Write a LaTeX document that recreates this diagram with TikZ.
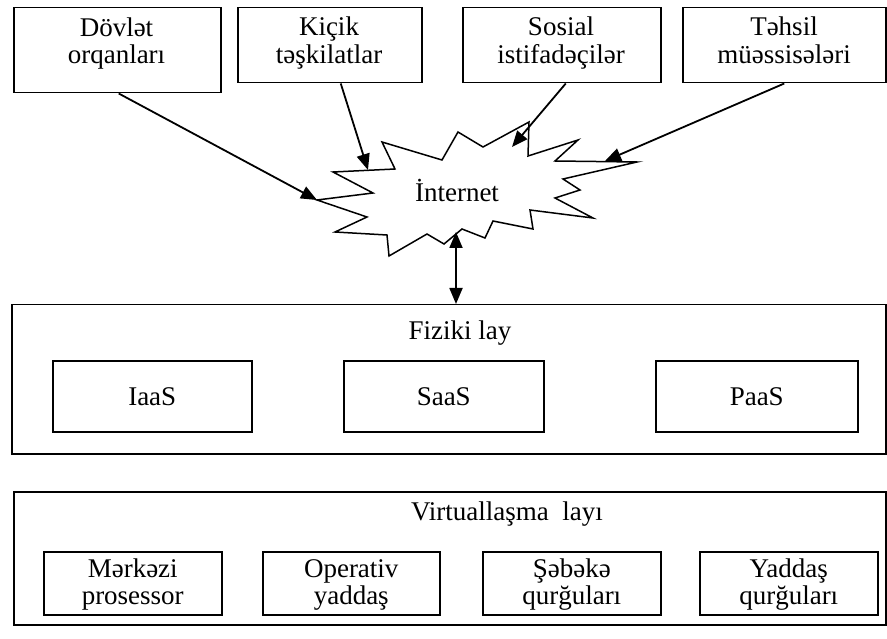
\documentclass[tikz,border=0pt]{standalone}
\usepackage{fontspec}
\setmainfont{Liberation Serif}
\usetikzlibrary{arrows.meta}
\newcommand\twolines[2]{\vtop{\halign{\hfil##\hfil\cr #1\cr #2\cr}}}
\begin{document}
\begin{tikzpicture}[x=1pt,y=-1pt,
  frame/.style={draw, line width=1.5pt, inner sep=0pt, anchor=north west},
  lbl/.style={font=\fontsize{27}{27.5}\selectfont, inner sep=0pt, anchor=base},
  arr/.style={line width=1.8pt, -{Triangle[length=16pt,width=13pt]}},
  darr/.style={line width=1.8pt, {Triangle[length=16pt,width=13pt]}-{Triangle[length=16pt,width=13pt]}},
]
\useasboundingbox (0,0) rectangle (887,639);

% top boxes
\node[frame, minimum width=207pt, minimum height=85pt] (b1) at (13,7) {};
\node[frame, minimum width=184pt, minimum height=75pt] (b2) at (237,7) {};
\node[frame, minimum width=198pt, minimum height=75pt] (b3) at (462,7) {};
\node[frame, minimum width=203pt, minimum height=75pt] (b4) at (682,7) {};
\node[lbl] (t1) at (116.5,36.5) {\twolines{Dövlət}{orqanları}};
\node[lbl] (t2) at (329,36) {\twolines{Kiçik}{təşkilatlar}};
\node[lbl] (t3) at (561,36) {\twolines{Sosial}{istifadəçilər}};
\node[lbl] (t4) at (784,36) {\twolines{Təhsil}{müəssisələri}};

% starburst
\draw[line width=1.5pt, fill=white]
  (382,142) -- (442,160) -- (458,132) -- (483,147) -- (529,122) -- (528,156)
  -- (578,140) -- (555,161) -- (637,162) -- (563,179) -- (580,190) -- (555,198)
  -- (593,218) -- (530,210) -- (533,229) -- (493,221) -- (485,238) -- (462,229)
  -- (444,244) -- (427,234) -- (389,256) -- (387,235) -- (335,232) -- (367,217)
  -- (317,200) -- (373,193) -- (333,172) -- (395,169) -- cycle;
\node[lbl] (inet) at (457,202) {İnternet};
\coordinate (tip1) at (317,200);
\coordinate (tip2) at (368,170);
\coordinate (tip3) at (512,147);
\coordinate (tip4) at (605,161);
\coordinate (tip5) at (456,232);

% Fiziki lay
\node[frame, minimum width=874pt, minimum height=149pt] (fiz) at (11,304) {};
\node[lbl] (fizt) at (460,340) {Fiziki lay};
\node[frame, minimum width=199pt, minimum height=71pt] (iaas) at (52,360) {};
\node[frame, minimum width=200pt, minimum height=71pt] (saas) at (343,360) {};
\node[frame, minimum width=202pt, minimum height=71pt] (paas) at (655,360) {};
\node[lbl] at ([yshift=-9.5pt]iaas.center) {IaaS};
\node[lbl] at ([yshift=-9.5pt]saas.center) {SaaS};
\node[lbl] at ([yshift=-9.5pt]paas.center) {PaaS};

% Virtuallasma layi
\node[frame, minimum width=872pt, minimum height=133pt] (vir) at (13,491) {};
\node[lbl] (virt) at (507,520) {Virtuallaşma~~layı};
\node[frame, minimum width=178pt, minimum height=63pt] (v1) at (43,551) {};
\node[frame, minimum width=177pt, minimum height=63pt] (v2) at (262,551) {};
\node[frame, minimum width=178pt, minimum height=63pt] (v3) at (482,551) {};
\node[frame, minimum width=178pt, minimum height=63pt] (v4) at (699,551) {};
\node[lbl] at (v1.center |- 0,577) {\twolines{Mərkəzi}{prosessor}};
\node[lbl] at (v2.center |- 0,577) {\twolines{Operativ}{yaddaş}};
\node[lbl] at (v3.center |- 0,577) {\twolines{Şəbəkə}{qurğuları}};
\node[lbl] at (v4.center |- 0,577) {\twolines{Yaddaş}{qurğuları}};

% arrows
\draw[arr] ([xshift=1.5pt]b1.south) -- (tip1);
\draw[arr] ([xshift=11pt]b2.south) -- (tip2);
\draw[arr] ([xshift=4pt]b3.south) -- (tip3);
\draw[arr] (b4.south) -- (tip4);
\draw[darr] (tip5) -- (tip5 |- fiz.north);
\end{tikzpicture}
\end{document}
